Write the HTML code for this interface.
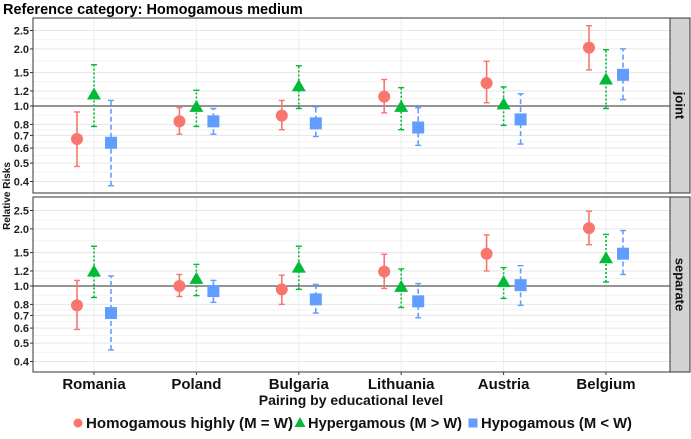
<!DOCTYPE html>
<html><head><meta charset="utf-8"><style>
body{margin:0;background:#fff;font-family:"Liberation Sans",Arial,sans-serif}
svg text{font-family:"Liberation Sans",Arial,sans-serif;font-weight:bold}
</style></head><body>
<svg id="c" width="691" height="434" viewBox="0 0 691 434"></svg>
<script>
const countries=["Romania","Poland","Bulgaria","Lithuania","Austria","Belgium"];
const panels=["joint","separate"];
const seriesNames=["Homogamous highly (M = W)","Hypergamous (M > W)","Hypogamous (M < W)"];
const yTicks=[0.4,0.5,0.6,0.7,0.8,1.0,1.2,1.5,2.0,2.5];
const yTickLabels=["0.4","0.5","0.6","0.7","0.8","1.0","1.2","1.5","2.0","2.5"];
// joint panel: est, lo, hi
const jointHomo=[[0.67,0.48,0.93],[0.83,0.71,0.98],[0.89,0.75,1.07],[1.12,0.92,1.38],[1.32,1.04,1.72],[2.03,1.55,2.65]];
const jointHyper=[[1.15,0.78,1.65],[0.99,0.78,1.21],[1.27,0.97,1.63],[0.99,0.75,1.25],[1.02,0.79,1.26],[1.38,0.97,1.98]];
const jointHypo=[[0.64,0.38,1.07],[0.83,0.71,0.97],[0.81,0.69,0.99],[0.77,0.62,0.98],[0.85,0.63,1.16],[1.46,1.08,2.0]];
const sepHomo=[[0.79,0.59,1.07],[1.0,0.88,1.15],[0.96,0.80,1.14],[1.19,0.97,1.47],[1.48,1.20,1.86],[2.02,1.65,2.48]];
const sepHyper=[[1.19,0.87,1.62],[1.09,0.89,1.30],[1.25,0.96,1.62],[0.99,0.77,1.23],[1.05,0.86,1.25],[1.40,1.05,1.87]];
const sepHypo=[[0.72,0.46,1.13],[0.94,0.82,1.07],[0.85,0.72,1.02],[0.83,0.68,1.03],[1.01,0.79,1.28],[1.48,1.15,1.96]];

const NS="http://www.w3.org/2000/svg";
const svg=document.getElementById('c');
function el(t,a,p){const e=document.createElementNS(NS,t);for(const k in a)e.setAttribute(k,a[k]);(p||svg).appendChild(e);return e;}
const X0=33,X1=670;
const colors=["#F8766D","#00BA38","#619CFF"];
const dashes=["","2,2","5,3"];
const panelTop=[18,197],panelBot=[193,372],oneY=[106,286];
const scale=189.7;
function xPos(i){return 94+i*102.4;}
function yPos(p,v){return oneY[p]-Math.log10(v)*scale;}
const t=el('text',{x:3,y:14,'font-size':14.5,fill:'#000'});t.textContent="Reference category: Homogamous medium";

const data=[[jointHomo,jointHyper,jointHypo],[sepHomo,sepHyper,sepHypo]];
for(let p=0;p<2;p++){
  const g=el('g',{});
  
  
  el('rect',{x:X0,y:panelTop[p],width:X1-X0,height:panelBot[p]-panelTop[p],fill:'#fff'},g);
  for(let k=0;k<yTicks.length-1;k++){const v=Math.sqrt(yTicks[k]*yTicks[k+1]);const y=yPos(p,v);
    el('line',{x1:X0,x2:X1,y1:y,y2:y,stroke:'#f2f2f2','stroke-width':1},g);}
  yTicks.forEach((v,k)=>{const y=yPos(p,v);
    el('line',{x1:X0,x2:X1,y1:y,y2:y,stroke:'#e6e6e6','stroke-width':1},g);
    el('line',{x1:X0-3,x2:X0,y1:y,y2:y,stroke:'#333'},g);
    const tx=el('text',{x:X0-4,y:y+4,'text-anchor':'end','font-size':11,fill:'#222'},g);tx.textContent=yTickLabels[k];
    });
  countries.forEach((c,i)=>el('line',{x1:xPos(i),x2:xPos(i),y1:panelTop[p],y2:panelBot[p],stroke:'#ececec'},g));
  el('line',{x1:X0,x2:X1,y1:yPos(p,1),y2:yPos(p,1),stroke:'#555','stroke-width':1.2},g);
  for(let s=0;s<3;s++){
    data[p][s].forEach((d,i)=>{
      const x=xPos(i)+(s-1)*17;
      const m=el('g',{},g);
      
      
      const a={stroke:colors[s],'stroke-width':1.6};if(dashes[s])a['stroke-dasharray']=dashes[s];
      el('line',Object.assign({x1:x,x2:x,y1:yPos(p,d[1]),y2:yPos(p,d[2])},a),m);
      [d[1],d[2]].forEach(v=>el('line',{x1:x-3,x2:x+3,y1:yPos(p,v),y2:yPos(p,v),stroke:colors[s],'stroke-width':1.4},m));
      const y=yPos(p,d[0]);
      if(s==0)el('circle',{cx:x,cy:y,r:6,fill:colors[s]},m);
      else if(s==1)el('polygon',{points:`${x},${y-7} ${x-7},${y+5} ${x+7},${y+5}`,fill:colors[s]},m);
      else el('rect',{x:x-6,y:y-6,width:12,height:12,fill:colors[s]},m);
    });
  }
  el('rect',{x:X0,y:panelTop[p],width:X1-X0,height:panelBot[p]-panelTop[p],fill:'none',stroke:'#333','stroke-width':1},g);
  el('rect',{x:X1,y:panelTop[p],width:20,height:panelBot[p]-panelTop[p],fill:'#d3d3d3',stroke:'#333'},g);
  const my=(panelTop[p]+panelBot[p])/2;
  const sl=el('text',{x:X1+10,y:my,'font-size':13,'text-anchor':'middle',transform:`rotate(90 ${X1+10} ${my})`,'dominant-baseline':'central',fill:'#111'},g);
  sl.textContent=panels[p];
}
countries.forEach((c,i)=>{el('line',{x1:xPos(i),x2:xPos(i),y1:372,y2:375,stroke:'#333'});
  const tx=el('text',{x:xPos(i),y:389,'text-anchor':'middle','font-size':15,fill:'#111'});tx.textContent=c;
  });
const xt=el('text',{x:351,y:405,'text-anchor':'middle','font-size':14,fill:'#111'});xt.textContent="Pairing by educational level";

const yt=el('text',{x:10,y:196,'text-anchor':'middle','font-size':10,transform:'rotate(-90 10 196)',fill:'#111'});yt.textContent="Relative Risks";

const lx=[78,300,473];
const lw=[207,154,151];
seriesNames.forEach((n,s)=>{const g=el('g',{});
  
  const x=lx[s],y=423;
  if(s==0)el('circle',{cx:x,cy:y,r:4.5,fill:colors[s]},g);
  else if(s==1)el('polygon',{points:`${x},${y-6} ${x-5.5},${y+4} ${x+5.5},${y+4}`,fill:colors[s]},g);
  else el('rect',{x:x-4.5,y:y-4.5,width:9,height:9,fill:colors[s]},g);
  const tx=el('text',{x:x+8,y:428,'font-size':14.5,fill:'#111',textLength:lw[s],lengthAdjust:'spacingAndGlyphs'},g);tx.textContent=n;});
</script>
</body></html>
